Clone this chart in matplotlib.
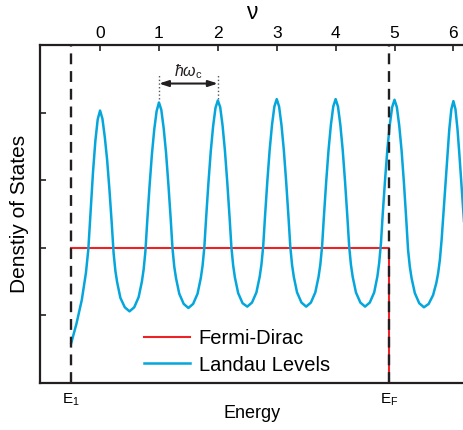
import matplotlib.pyplot as plt

plt.rcParams['font.family'] = ['Liberation Sans', 'DejaVu Sans']
plt.rcParams['mathtext.fontset'] = 'custom'
plt.rcParams['mathtext.rm'] = 'Liberation Sans'
plt.rcParams['mathtext.it'] = 'Liberation Sans:italic'

# Landau level density of states (x in units of nu)
landau_nu = [
    -0.49, -0.40, -0.31, -0.24, -0.20, -0.16, -0.12, -0.08, -0.04, 0.00,
    0.04, 0.08, 0.12, 0.16, 0.20, 0.23, 0.26, 0.29, 0.345, 0.42, 0.50,
    0.58, 0.655, 0.71, 0.74, 0.77, 0.80, 0.84, 0.88, 0.92, 0.96, 1.00,
    1.04, 1.08, 1.12, 1.16, 1.20, 1.23, 1.26, 1.29, 1.345, 1.42, 1.50,
    1.58, 1.655, 1.71, 1.74, 1.77, 1.80, 1.84, 1.88, 1.92, 1.96, 2.00,
    2.04, 2.08, 2.12, 2.16, 2.20, 2.23, 2.26, 2.29, 2.345, 2.42, 2.50,
    2.58, 2.655, 2.71, 2.74, 2.77, 2.80, 2.84, 2.88, 2.92, 2.96, 3.00,
    3.04, 3.08, 3.12, 3.16, 3.20, 3.23, 3.26, 3.29, 3.345, 3.42, 3.50,
    3.58, 3.655, 3.71, 3.74, 3.77, 3.80, 3.84, 3.88, 3.92, 3.96, 4.00,
    4.04, 4.08, 4.12, 4.16, 4.20, 4.23, 4.26, 4.29, 4.345, 4.42, 4.50,
    4.58, 4.655, 4.71, 4.74, 4.77, 4.80, 4.84, 4.88, 4.92, 4.96, 5.00,
    5.04, 5.08, 5.12, 5.16, 5.20, 5.23, 5.26, 5.29, 5.345, 5.42, 5.50,
    5.58, 5.655, 5.71, 5.74, 5.77, 5.80, 5.83, 5.865, 5.90, 5.93, 5.965, 6.00,
    6.035, 6.07, 6.10, 6.135, 6.17, 6.19,
]
landau_dos = [
    0.59, 0.88, 1.23, 1.63, 1.97, 2.55, 3.12, 3.58, 3.90, 4.03,
    3.91, 3.64, 3.30, 2.85, 2.34, 1.92, 1.66, 1.49, 1.26, 1.12, 1.06,
    1.12, 1.27, 1.50, 1.68, 1.95, 2.38, 2.91, 3.38, 3.75, 4.02, 4.15,
    4.04, 3.77, 3.41, 2.94, 2.42, 1.99, 1.72, 1.55, 1.32, 1.17, 1.11,
    1.17, 1.32, 1.55, 1.73, 2.00, 2.43, 2.96, 3.43, 3.80, 4.07, 4.18,
    4.08, 3.81, 3.44, 2.97, 2.44, 2.01, 1.74, 1.56, 1.33, 1.18, 1.13,
    1.19, 1.34, 1.57, 1.75, 2.02, 2.45, 2.98, 3.45, 3.82, 4.09, 4.20,
    4.09, 3.82, 3.45, 2.98, 2.45, 2.02, 1.75, 1.57, 1.34, 1.19, 1.13,
    1.19, 1.34, 1.57, 1.75, 2.02, 2.45, 2.98, 3.45, 3.82, 4.09, 4.20,
    4.09, 3.82, 3.45, 2.98, 2.45, 2.02, 1.75, 1.57, 1.34, 1.19, 1.13,
    1.19, 1.34, 1.58, 1.78, 2.07, 2.50, 3.01, 3.47, 3.82, 4.08, 4.19,
    4.08, 3.81, 3.44, 2.96, 2.41, 1.97, 1.72, 1.55, 1.33, 1.18, 1.12,
    1.17, 1.30, 1.48, 1.62, 1.82, 2.12, 2.50, 2.95, 3.40, 3.75, 4.05, 4.17,
    4.05, 3.75, 3.40, 2.95, 2.50, 2.28,
]

# Fermi-Dirac step (zero temperature)
e_1 = -0.49
e_f = 4.91
fermi_level = 2.0
fermi_nu = [e_1, e_f, e_f]
fermi_dos = [fermi_level, fermi_level, 0.0]

nu_ticks = [0, 1, 2, 3, 4, 5, 6]
dos_ticks = [1, 2, 3, 4]

ink = '#231f20'
red = '#ec2227'
blue = '#05a6dc'

fig = plt.figure(figsize=(4.64, 4.30), dpi=100)
ax = fig.add_axes([40 / 464, 47 / 430, 424 / 464, 338 / 430])

ax.plot(fermi_nu, fermi_dos, color=red, lw=1.5, label='Fermi-Dirac', zorder=2)
ax.plot(landau_nu, landau_dos, color=blue, lw=1.8, label='Landau Levels', zorder=3)
for e in (e_1, e_f):
    ax.axvline(e, color=ink, lw=1.7, ls=(0, (4.6, 2.9)), zorder=4)

# spacing between levels
ax.plot([1, 1], [4.2, 4.56], ls=':', color='#555555', lw=1.0)
ax.plot([2, 2], [4.2, 4.56], ls=':', color='#555555', lw=1.0)
ax.annotate('', xy=(2, 4.43), xytext=(1, 4.43),
            arrowprops=dict(arrowstyle='<|-|>,head_length=0.55,head_width=0.18',
                            color=ink, lw=1.5, shrinkA=0, shrinkB=0))
ax.text(1.5, 4.6, r'$\hbar\omega_\mathrm{c}$', ha='center', va='center',
        fontsize=11.5, color=ink)

ax.set_xlim(-1.02, 6.18)
ax.set_ylim(0, 5)

for side in ('left', 'bottom', 'top'):
    ax.spines[side].set_linewidth(1.6)
    ax.spines[side].set_color(ink)
ax.spines['right'].set_visible(False)

ax.set_yticks(dos_ticks)
ax.set_yticklabels([])
ax.set_xticks([e_1, e_f])
ax.set_xticklabels([r'$\mathrm{E_1}$', r'$\mathrm{E_F}$'], fontsize=11)
ax.tick_params(direction='in', length=4, width=1.2, color=ink, pad=6)

top = ax.secondary_xaxis('top')
top.set_xticks(nu_ticks)
top.set_xticklabels([str(n) for n in nu_ticks], fontsize=12.5)
top.tick_params(direction='in', length=4, width=1.2, color=ink, pad=3)
top.spines['top'].set_visible(False)
top.set_xlabel('ν', fontsize=16.5, labelpad=5)

ax.set_xlabel('Energy', fontsize=13, labelpad=-2)
ax.set_ylabel('Denstiy of States', fontsize=15)
ax.yaxis.set_label_coords(-0.027, 0.5)

ax.legend(loc='center left', bbox_to_anchor=(144 / 464, 1 - 352 / 430),
          bbox_transform=fig.transFigure, frameon=False, fontsize=14.5,
          handlelength=2.3, handletextpad=0.42, labelspacing=0.35,
          borderpad=0, borderaxespad=0)

fig.savefig('out.png', dpi=100)
